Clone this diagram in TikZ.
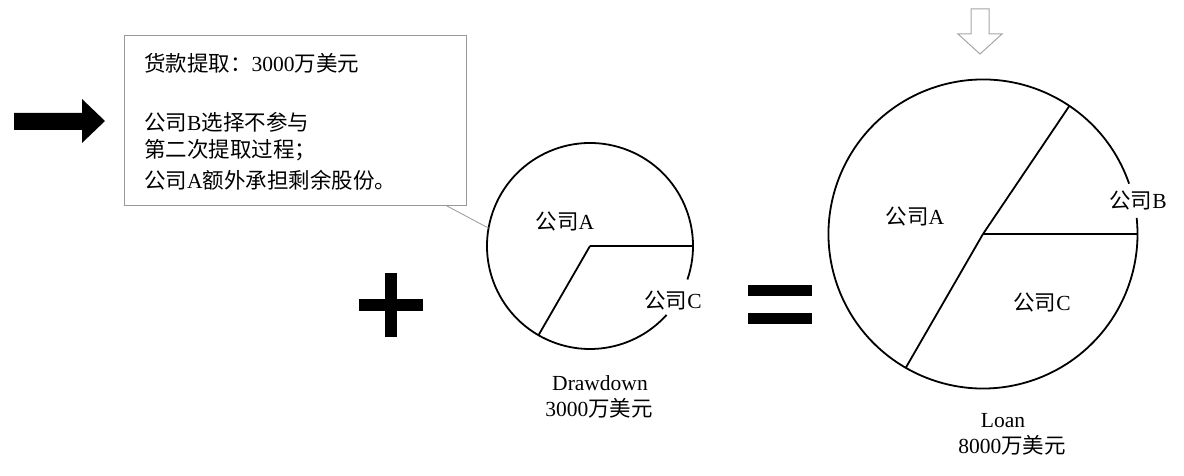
\documentclass[tikz,border=0pt]{standalone}
\usepackage{fontspec}
\usetikzlibrary{calc}
\setmainfont{Liberation Serif}
\newfontfamily\cjk{Noto Sans CJK SC}
\begin{document}
\begin{tikzpicture}[x=1pt,y=1pt,
  lbl/.style={font=\fontsize{21.5}{25}\selectfont, inner sep=0pt},
  boxtxt/.style={font=\fontsize{21.5}{25}\selectfont, inner sep=0pt, anchor=west},
  pieline/.style={line width=1.8pt, black},
  symb/.style={fill=black, draw=none}]
\useasboundingbox (0,0) rectangle (1184,476);
% left black arrow
\fill[black] (14,363) -- (82,363) -- (82,377) -- (105,355) -- (82,333) -- (82,346) -- (14,346) -- cycle;
% callout box
\node[draw=gray!80, line width=0.8pt, minimum width=342, minimum height=170, inner sep=0pt] (box) at (295,356) {};
\node[boxtxt] (t1) at (144,413) {{\cjk 货款提取：}3000{\cjk 万美元}};
\node[boxtxt] (t2) at (144,354) {{\cjk 公司}B{\cjk 选择不参与}};
\node[boxtxt] (t3) at (144,326) {{\cjk 第二次提取过程；}};
\node[boxtxt] (t4) at (144,296) {{\cjk 公司}A{\cjk 额外承担剩余股份。}};
% small pie
\coordinate (sc) at (590,230);
\coordinate (cl) at ($(box.south west)!0.94!(box.south east)$);
\draw[pieline] ($(sc)+(-19:103)$) arc[start angle=-19, end angle=318, radius=103];
\draw[pieline] (sc) -- ++(0:103);
\draw[pieline] (sc) -- ++(240:103);
\draw[gray!80, line width=0.8pt] (cl) -- ($(sc)+(170:103)$);
\node[lbl] (sA) at (565,255) {{\cjk 公司}A};
\node[lbl] (sC) at (673,176) {{\cjk 公司}C};
\node[lbl] (sD) at (600,93) {Drawdown};
\node[lbl] (sV) at (599,68) {3000{\cjk 万美元}};
% plus
\fill[black] (385,203) rectangle (397,139);
\fill[black] (359,177) rectangle (423,165);
% equals
\fill[black] (748,191) rectangle (812,180);
\fill[black] (748,163) rectangle (812,152);
% big pie
\coordinate (bc) at (983,242);
\draw[pieline] ($(bc)+(19:154.5)$) arc[start angle=19, end angle=366, radius=154.5];
\draw[pieline] (bc) -- ++(0:154.5);
\draw[pieline] (bc) -- ++(56:154.5);
\draw[pieline] (bc) -- ++(240:154.5);
\node[lbl] (bA) at (915,260) {{\cjk 公司}A};
\node[lbl] (bB) at (1138,276) {{\cjk 公司}B};
\node[lbl] (bC) at (1042,174) {{\cjk 公司}C};
\node[lbl] (bL) at (1003,55) {Loan};
\node[lbl] (bV) at (1012,31) {8000{\cjk 万美元}};
% hollow down arrow
\draw[gray!70, line width=1pt, fill=white] (971,467) -- (989,467) -- (989,442) -- (1002,442) -- (980,422) -- (958,442) -- (971,442) -- cycle;
\end{tikzpicture}
\end{document}
